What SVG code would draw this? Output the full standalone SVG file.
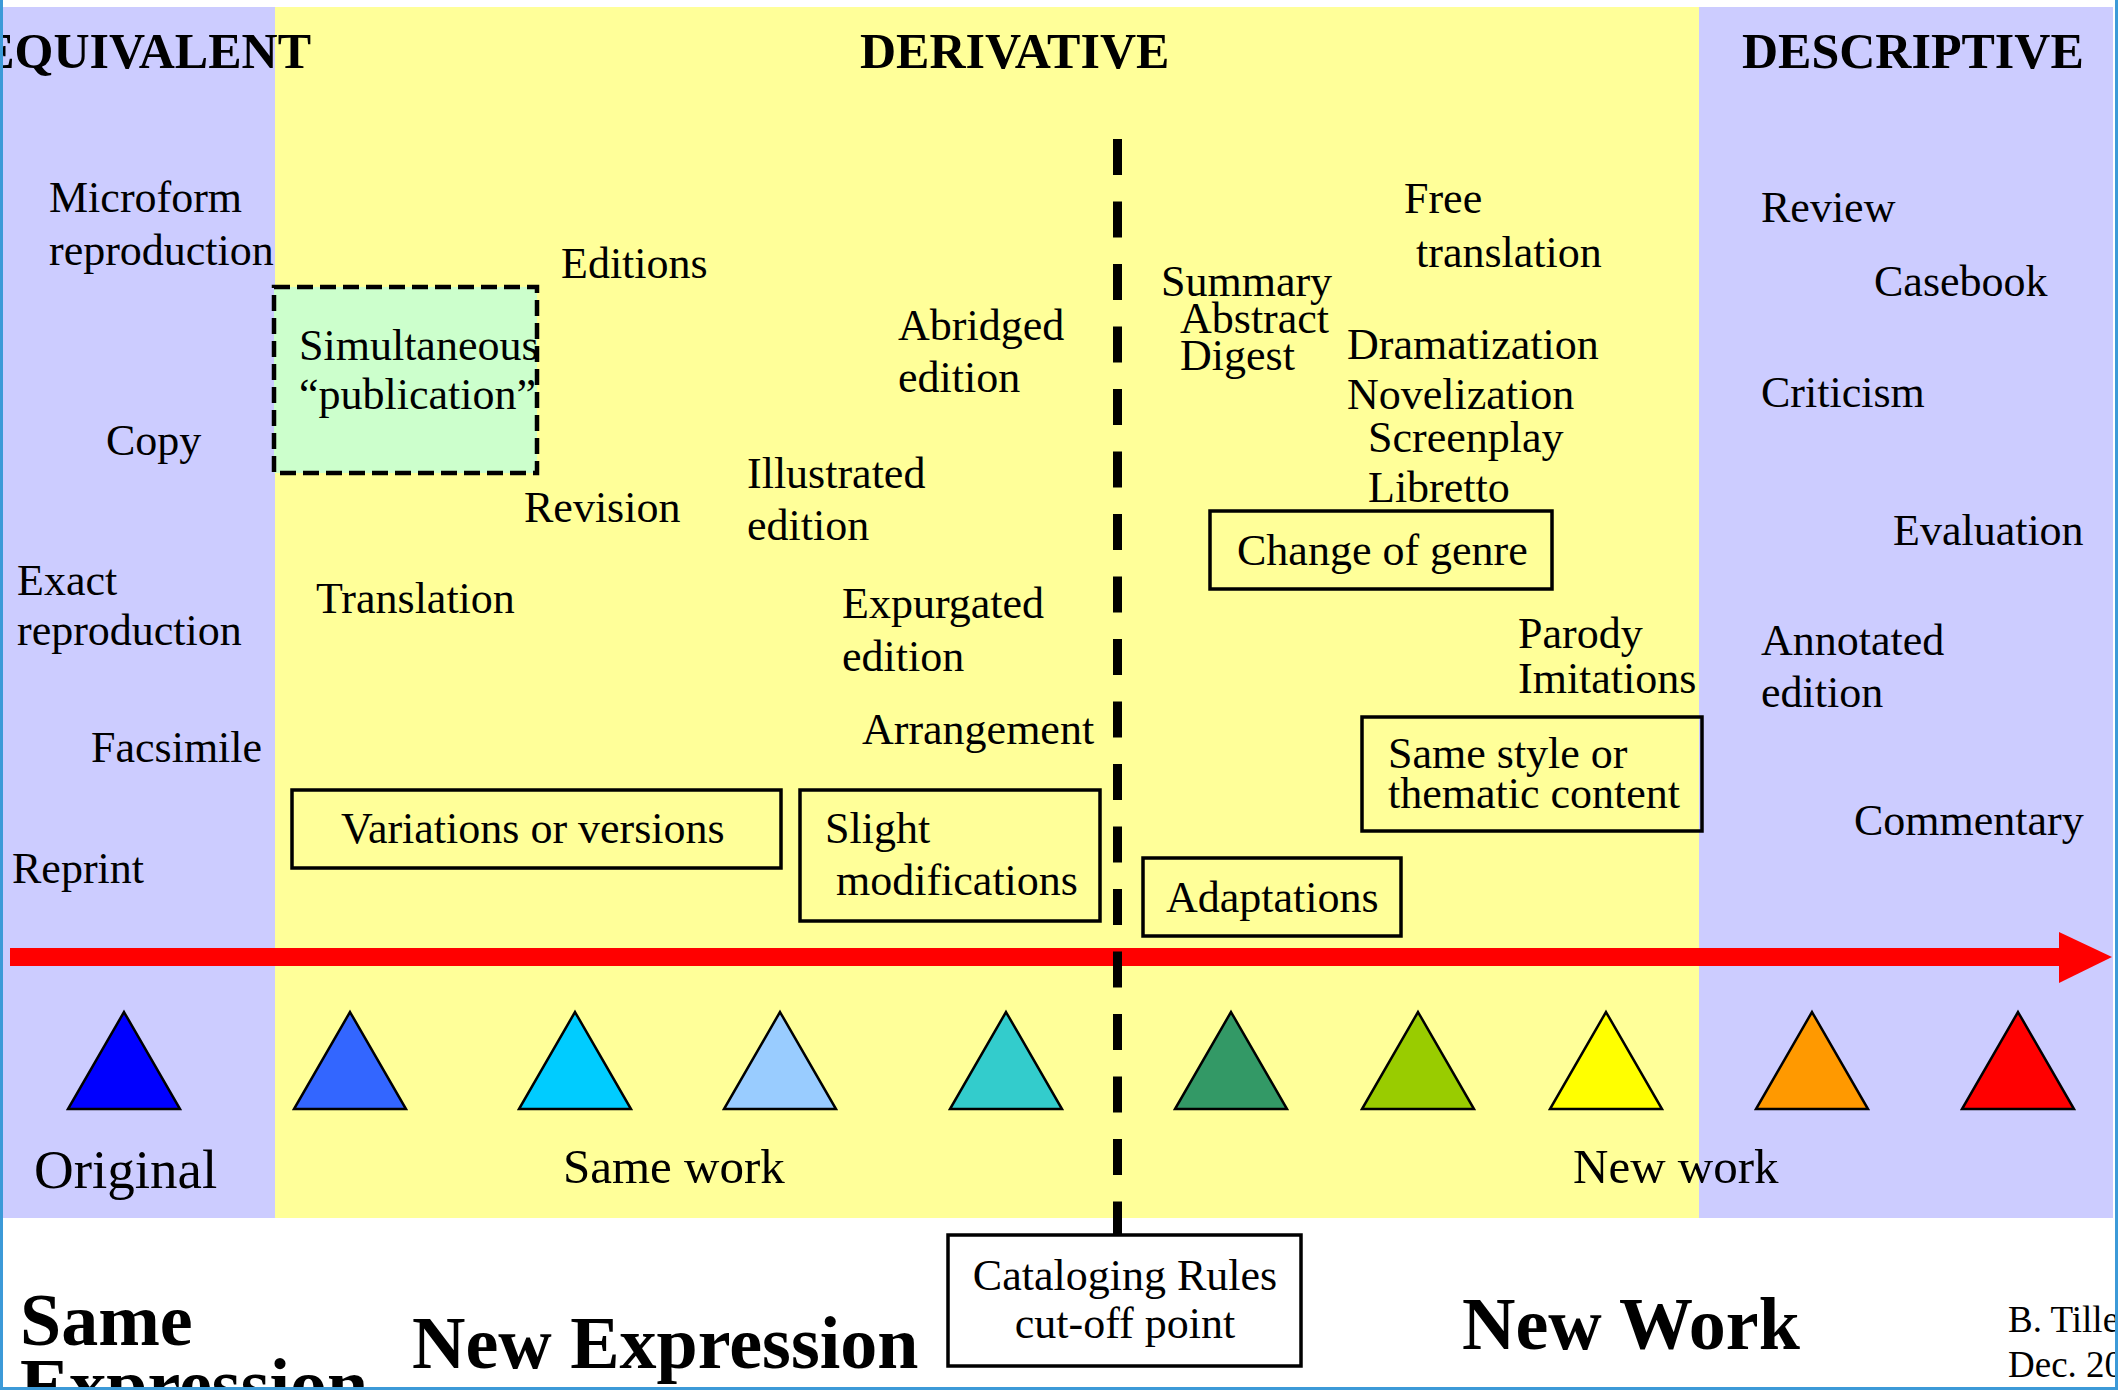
<svg xmlns="http://www.w3.org/2000/svg" width="2118" height="1390" viewBox="0 0 2118 1390">
<style>
.t{font-family:"Liberation Serif","Times New Roman",serif;font-size:44px;fill:#000}
.h{font-family:"Liberation Serif","Times New Roman",serif;font-size:50px;font-weight:bold;fill:#000}
.big{font-family:"Liberation Serif","Times New Roman",serif;font-size:74px;font-weight:bold;fill:#000}
.lab{font-family:"Liberation Serif","Times New Roman",serif;font-size:49px;fill:#000}
.box{fill:none;stroke:#000;stroke-width:3.5}
.tri{stroke:#000;stroke-width:2.5;stroke-linejoin:miter}
</style>
<rect x="0" y="0" width="2118" height="1390" fill="#fff"/>
<g id="bands">
<rect x="0" y="7" width="275" height="1211" fill="#CCCCFF"/>
<rect x="275" y="7" width="1424" height="1211" fill="#FFFF99"/>
<rect x="1699" y="7" width="414" height="1211" fill="#CCCCFF"/>
</g>
<g id="headers">
<text class="h" x="311" y="68" text-anchor="end">EQUIVALENT</text>
<text class="h" x="860" y="68">DERIVATIVE</text>
<text class="h" x="1742" y="68">DESCRIPTIVE</text>
</g>
<g id="equivalent">
<text class="t" x="49" y="212">Microform</text>
<text class="t" x="49" y="265">reproduction</text>
<text class="t" x="106" y="455">Copy</text>
<text class="t" x="17" y="595">Exact</text>
<text class="t" x="17" y="645">reproduction</text>
<text class="t" x="91" y="762">Facsimile</text>
<text class="t" x="12" y="883">Reprint</text>
</g>
<g id="simultaneous">
<rect x="274" y="287" width="263" height="186" fill="#CCFFCC" stroke="#000" stroke-width="4.5" stroke-dasharray="16 7"/>
<text class="t" x="299" y="360">Simultaneous</text>
<text class="t" x="299" y="409">“publication”</text>
</g>
<g id="derivative-same">
<text class="t" x="561" y="278">Editions</text>
<text class="t" x="898" y="340">Abridged</text>
<text class="t" x="898" y="392">edition</text>
<text class="t" x="747" y="488">Illustrated</text>
<text class="t" x="747" y="540">edition</text>
<text class="t" x="524" y="522">Revision</text>
<text class="t" x="316" y="613">Translation</text>
<text class="t" x="842" y="618">Expurgated</text>
<text class="t" x="842" y="671">edition</text>
<text class="t" x="862" y="744">Arrangement</text>
</g>
<g id="variations">
<rect class="box" x="292" y="790" width="489" height="78"/>
<text class="t" x="341" y="843">Variations or versions</text>
</g>
<g id="slight">
<rect class="box" x="800" y="790" width="300" height="131"/>
<text class="t" x="825" y="843">Slight</text>
<text class="t" x="836" y="895">modifications</text>
</g>
<g id="derivative-new">
<text class="t" x="1161" y="296">Summary</text>
<text class="t" x="1180" y="333">Abstract</text>
<text class="t" x="1180" y="370">Digest</text>
<text class="t" x="1404" y="213">Free</text>
<text class="t" x="1416" y="267">translation</text>
<text class="t" x="1347" y="359">Dramatization</text>
<text class="t" x="1347" y="409">Novelization</text>
<text class="t" x="1368" y="452">Screenplay</text>
<text class="t" x="1368" y="502">Libretto</text>
<text class="t" x="1518" y="648">Parody</text>
<text class="t" x="1518" y="693">Imitations</text>
</g>
<g id="genre">
<rect class="box" x="1210" y="511" width="342" height="78"/>
<text class="t" x="1237" y="565">Change of genre</text>
</g>
<g id="samestyle">
<rect class="box" x="1362" y="717" width="340" height="114"/>
<text class="t" x="1388" y="768">Same style or</text>
<text class="t" x="1388" y="808">thematic content</text>
</g>
<g id="adaptations">
<rect class="box" x="1143" y="858" width="258" height="78"/>
<text class="t" x="1166" y="912">Adaptations</text>
</g>
<g id="descriptive">
<text class="t" x="1761" y="222">Review</text>
<text class="t" x="1874" y="296">Casebook</text>
<text class="t" x="1761" y="407">Criticism</text>
<text class="t" x="1893" y="545">Evaluation</text>
<text class="t" x="1761" y="655">Annotated</text>
<text class="t" x="1761" y="707">edition</text>
<text class="t" x="1854" y="835">Commentary</text>
</g>
<g id="triangles">
<polygon class="tri" fill="#0000FF" points="124,1012 180,1109 68,1109"/>
<polygon class="tri" fill="#3366FF" points="350,1012 406,1109 294,1109"/>
<polygon class="tri" fill="#00CCFF" points="575,1012 631,1109 519,1109"/>
<polygon class="tri" fill="#99CCFF" points="780,1012 836,1109 724,1109"/>
<polygon class="tri" fill="#33CCCC" points="1006,1012 1062,1109 950,1109"/>
<polygon class="tri" fill="#339966" points="1231,1012 1287,1109 1175,1109"/>
<polygon class="tri" fill="#99CC00" points="1418,1012 1474,1109 1362,1109"/>
<polygon class="tri" fill="#FFFF00" points="1606,1012 1662,1109 1550,1109"/>
<polygon class="tri" fill="#FF9900" points="1812,1012 1868,1109 1756,1109"/>
<polygon class="tri" fill="#FF0000" points="2018,1012 2074,1109 1962,1109"/>
</g>
<g id="axis-labels">
<text class="lab" x="34" y="1188" style="font-size:55px">Original</text>
<text class="lab" x="563" y="1183">Same work</text>
<text class="lab" x="1573" y="1183">New work</text>
</g>
<g id="connectors">
<rect x="10" y="948" width="2050" height="18" fill="#FF0000"/>
<polygon points="2059,932 2112,957 2059,983" fill="#FF0000"/>
<line x1="1117.5" y1="139" x2="1117.5" y2="1236" stroke="#000" stroke-width="9" stroke-dasharray="36 26.5"/>
</g>
<g id="cutoff">
<rect class="box" x="948" y="1235" width="353" height="131" fill="#fff"/>
<text class="t" x="1125" y="1290" text-anchor="middle">Cataloging Rules</text>
<text class="t" x="1125" y="1338" text-anchor="middle">cut-off point</text>
</g>
<g id="bottom-labels">
<text class="big" x="20" y="1345">Same</text>
<text class="big" x="20" y="1410">Expression</text>
<text class="big" x="412" y="1368">New Expression</text>
<text class="big" x="1462" y="1349">New Work</text>
<text class="t" x="2008" y="1332" style="font-size:37px">B. Tille</text>
<text class="t" x="2008" y="1377" style="font-size:37px">Dec. 20</text>
</g>
<g id="frame">
<rect x="0" y="0" width="3" height="1390" fill="#3c9ad8"/>
<rect x="2115" y="0" width="3" height="1390" fill="#3c9ad8"/>
<rect x="0" y="1387" width="2118" height="3" fill="#3c9ad8"/>
</g>
</svg>
